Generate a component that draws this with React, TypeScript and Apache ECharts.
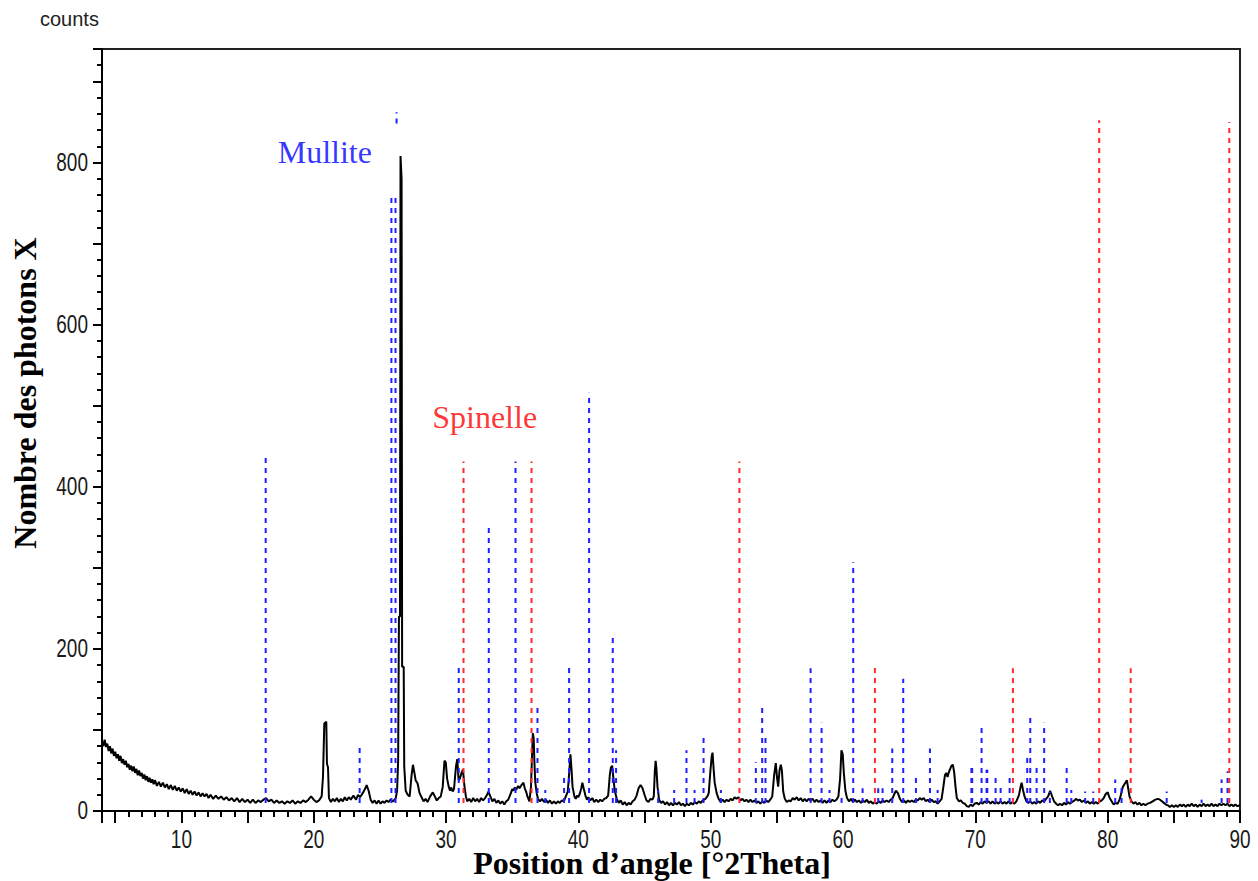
import React, { useEffect, useRef } from "react";
import * as echarts from "echarts";

// ---- Data -------------------------------------------------------------
// Measured XRD pattern: [2theta, counts]
const pattern: [number, number][] = [
  [4.0, 86], [4.1, 80], [4.2, 88], [4.3, 79], [4.4, 83], [4.5, 74], [4.6, 80], [4.7, 71], [4.8, 77], [4.9, 68],
  [5.0, 73], [5.1, 65], [5.2, 70], [5.3, 62], [5.4, 68], [5.5, 59], [5.6, 64], [5.7, 57], [5.8, 62], [5.9, 54],
  [6.0, 58], [6.1, 51], [6.2, 56], [6.3, 49], [6.4, 55], [6.5, 47], [6.6, 52], [6.7, 44], [6.8, 50], [6.9, 43],
  [7.0, 47], [7.1, 40], [7.2, 45], [7.3, 38], [7.4, 43], [7.5, 36], [7.6, 41], [7.7, 35], [7.8, 39], [7.9, 33],
  [8.0, 38], [8.15, 31], [8.3, 36], [8.45, 30], [8.6, 35], [8.75, 29], [8.9, 33], [9.05, 27], [9.2, 32], [9.35, 26],
  [9.5, 31], [9.65, 25], [9.8, 29], [9.95, 24], [10.1, 28], [10.25, 22], [10.4, 27], [10.55, 21], [10.7, 25], [10.85, 20],
  [11.0, 24], [11.15, 19], [11.3, 23], [11.45, 18], [11.6, 22], [11.75, 18], [11.9, 21], [12.05, 16], [12.2, 20], [12.4, 15],
  [12.6, 19], [12.8, 15], [13.0, 18], [13.2, 14], [13.4, 17], [13.6, 13], [13.8, 16], [14.0, 12], [14.2, 16], [14.4, 11],
  [14.6, 15], [14.8, 11], [15.0, 14], [15.2, 10], [15.4, 14], [15.6, 10], [15.8, 13], [16.0, 11], [16.2, 14], [16.4, 16],
  [16.6, 12], [16.8, 14], [17.0, 10], [17.2, 13], [17.4, 10], [17.6, 12], [17.8, 9], [18.0, 12], [18.2, 10], [18.4, 13],
  [18.6, 9], [18.8, 12], [19.0, 10], [19.2, 13], [19.4, 11], [19.6, 14], [19.8, 18], [20.0, 14], [20.2, 11], [20.4, 13],
  [20.6, 18], [20.7, 42], [20.8, 108], [20.95, 110], [21.0, 58], [21.08, 54], [21.15, 16], [21.3, 11], [21.45, 15], [21.6, 12],
  [21.75, 16], [21.9, 11], [22.05, 15], [22.2, 12], [22.35, 17], [22.5, 13], [22.65, 17], [22.8, 14], [23.0, 19], [23.2, 14],
  [23.35, 20], [23.5, 17], [23.7, 22], [23.9, 28], [24.0, 32], [24.15, 25], [24.3, 14], [24.45, 10], [24.6, 13], [24.75, 9],
  [24.9, 13], [25.05, 9], [25.2, 12], [25.35, 10], [25.5, 13], [25.65, 11], [25.8, 14], [26.0, 12], [26.2, 16], [26.3, 25],
  [26.38, 62], [26.44, 240], [26.52, 240], [26.56, 808], [26.64, 780], [26.68, 178], [26.8, 178], [26.84, 55], [26.95, 25], [27.1, 20],
  [27.25, 18], [27.4, 45], [27.5, 57], [27.6, 48], [27.7, 38], [27.85, 34], [28.0, 22], [28.15, 17], [28.3, 12], [28.45, 15],
  [28.6, 11], [28.8, 18], [29.0, 23], [29.15, 18], [29.3, 13], [29.45, 16], [29.6, 18], [29.75, 30], [29.88, 62], [29.98, 60],
  [30.08, 40], [30.2, 30], [30.3, 25], [30.4, 29], [30.5, 24], [30.6, 27], [30.75, 55], [30.85, 64], [30.95, 38], [31.05, 40],
  [31.15, 46], [31.28, 51], [31.38, 32], [31.5, 18], [31.6, 12], [31.75, 15], [31.9, 11], [32.05, 16], [32.2, 12], [32.35, 15],
  [32.5, 11], [32.65, 16], [32.8, 13], [32.95, 16], [33.1, 20], [33.2, 24], [33.35, 18], [33.5, 12], [33.65, 15], [33.8, 10],
  [33.95, 13], [34.1, 9], [34.25, 12], [34.4, 8], [34.55, 12], [34.7, 14], [34.9, 22], [35.0, 27], [35.1, 25], [35.2, 29],
  [35.3, 26], [35.45, 31], [35.55, 28], [35.7, 32], [35.85, 35], [35.95, 28], [36.05, 24], [36.15, 18], [36.3, 12], [36.42, 30],
  [36.5, 70], [36.56, 96], [36.62, 90], [36.68, 60], [36.74, 36], [36.85, 22], [36.95, 15], [37.1, 12], [37.25, 15], [37.4, 11],
  [37.55, 14], [37.7, 10], [37.85, 13], [38.0, 9], [38.15, 12], [38.3, 9], [38.45, 12], [38.6, 10], [38.75, 13], [38.9, 12],
  [39.05, 18], [39.2, 24], [39.32, 50], [39.4, 70], [39.48, 52], [39.56, 30], [39.7, 18], [39.8, 15], [39.9, 19], [40.0, 17],
  [40.1, 21], [40.22, 28], [40.3, 35], [40.4, 28], [40.55, 18], [40.65, 14], [40.75, 17], [40.9, 13], [41.05, 16], [41.2, 11],
  [41.35, 14], [41.5, 11], [41.65, 14], [41.8, 12], [41.95, 15], [42.1, 16], [42.25, 19], [42.38, 45], [42.45, 53], [42.55, 56],
  [42.65, 40], [42.75, 25], [42.9, 15], [43.05, 10], [43.2, 13], [43.35, 8], [43.5, 11], [43.65, 7], [43.8, 10], [43.95, 8],
  [44.1, 12], [44.25, 14], [44.4, 19], [44.55, 28], [44.7, 32], [44.85, 28], [45.0, 20], [45.15, 13], [45.3, 11], [45.45, 15],
  [45.6, 14], [45.7, 18], [45.78, 50], [45.84, 62], [45.9, 52], [45.98, 30], [46.1, 14], [46.25, 10], [46.4, 12], [46.55, 8],
  [46.7, 11], [46.85, 7], [47.0, 10], [47.15, 7], [47.3, 10], [47.45, 8], [47.6, 11], [47.75, 7], [47.9, 9], [48.05, 6],
  [48.2, 9], [48.35, 7], [48.5, 10], [48.65, 8], [48.8, 11], [48.95, 9], [49.1, 12], [49.25, 10], [49.4, 13], [49.6, 15],
  [49.75, 18], [49.85, 22], [49.98, 50], [50.08, 68], [50.14, 72], [50.22, 52], [50.3, 35], [50.45, 22], [50.6, 15], [50.75, 11],
  [50.9, 14], [51.05, 11], [51.2, 14], [51.35, 12], [51.5, 15], [51.65, 13], [51.8, 17], [51.95, 15], [52.1, 17], [52.25, 13],
  [52.4, 15], [52.55, 12], [52.7, 14], [52.85, 11], [53.0, 14], [53.15, 11], [53.3, 13], [53.45, 10], [53.6, 12], [53.75, 9],
  [53.9, 12], [54.05, 10], [54.2, 13], [54.35, 11], [54.5, 14], [54.65, 18], [54.8, 45], [54.92, 59], [55.02, 40], [55.1, 30],
  [55.2, 50], [55.3, 57], [55.38, 50], [55.48, 24], [55.6, 15], [55.75, 11], [55.9, 13], [56.05, 12], [56.2, 16], [56.35, 14],
  [56.5, 17], [56.65, 13], [56.8, 16], [56.95, 12], [57.1, 15], [57.25, 12], [57.4, 15], [57.55, 13], [57.7, 15], [57.85, 11],
  [58.0, 14], [58.15, 11], [58.3, 13], [58.45, 10], [58.6, 13], [58.75, 10], [58.9, 13], [59.05, 11], [59.2, 14], [59.35, 12],
  [59.5, 14], [59.65, 18], [59.78, 40], [59.88, 75], [59.98, 70], [60.06, 47], [60.18, 25], [60.3, 16], [60.45, 12], [60.6, 15],
  [60.75, 11], [60.9, 14], [61.05, 11], [61.2, 13], [61.35, 10], [61.5, 13], [61.65, 11], [61.8, 14], [61.95, 10], [62.1, 12],
  [62.25, 9], [62.4, 11], [62.55, 9], [62.7, 12], [62.85, 10], [63.0, 13], [63.15, 11], [63.3, 13], [63.45, 11], [63.6, 14],
  [63.75, 16], [63.85, 20], [64.0, 25], [64.15, 22], [64.3, 15], [64.45, 11], [64.6, 13], [64.75, 10], [64.9, 13], [65.05, 11],
  [65.2, 13], [65.35, 11], [65.5, 14], [65.65, 13], [65.8, 16], [65.95, 14], [66.1, 16], [66.25, 12], [66.4, 14], [66.55, 11],
  [66.7, 14], [66.85, 11], [67.0, 12], [67.15, 9], [67.3, 12], [67.45, 15], [67.55, 26], [67.7, 44], [67.8, 47], [67.9, 42],
  [68.0, 48], [68.1, 52], [68.2, 56], [68.3, 57], [68.4, 48], [68.5, 30], [68.6, 16], [68.75, 12], [68.9, 13], [69.05, 10],
  [69.2, 9], [69.35, 6], [69.5, 5], [69.65, 8], [69.8, 6], [69.95, 9], [70.1, 10], [70.25, 8], [70.4, 11], [70.55, 9],
  [70.7, 12], [70.85, 10], [71.0, 12], [71.15, 9], [71.3, 12], [71.45, 9], [71.6, 11], [71.75, 9], [71.9, 12], [72.05, 9],
  [72.2, 11], [72.35, 9], [72.5, 12], [72.65, 9], [72.8, 11], [72.95, 9], [73.1, 12], [73.3, 20], [73.42, 30], [73.5, 35],
  [73.6, 26], [73.72, 18], [73.85, 12], [74.0, 10], [74.15, 12], [74.3, 9], [74.45, 11], [74.6, 9], [74.75, 12], [74.9, 10],
  [75.05, 13], [75.2, 12], [75.35, 15], [75.5, 18], [75.65, 25], [75.8, 18], [75.95, 12], [76.1, 9], [76.25, 7], [76.4, 9],
  [76.55, 7], [76.7, 10], [76.85, 8], [77.0, 11], [77.15, 9], [77.3, 11], [77.5, 13], [77.6, 15], [77.75, 13], [77.9, 14],
  [78.05, 11], [78.2, 13], [78.35, 10], [78.5, 12], [78.65, 9], [78.8, 11], [78.95, 9], [79.1, 11], [79.25, 9], [79.4, 12],
  [79.55, 13], [79.7, 16], [79.85, 21], [80.0, 23], [80.15, 16], [80.3, 12], [80.45, 8], [80.6, 10], [80.75, 9], [80.9, 14],
  [81.0, 20], [81.15, 30], [81.3, 34], [81.45, 38], [81.55, 28], [81.65, 18], [81.8, 12], [81.95, 9], [82.1, 11], [82.25, 8],
  [82.4, 10], [82.55, 7], [82.7, 9], [82.85, 7], [83.0, 9], [83.2, 10], [83.4, 12], [83.6, 14], [83.8, 15], [83.95, 14],
  [84.1, 12], [84.25, 10], [84.4, 8], [84.55, 7], [84.7, 5], [84.85, 7], [85.0, 5], [85.15, 7], [85.3, 5], [85.45, 8],
  [85.6, 6], [85.75, 8], [85.9, 5], [86.05, 8], [86.2, 6], [86.35, 9], [86.5, 6], [86.65, 8], [86.8, 5], [86.95, 8],
  [87.1, 6], [87.25, 9], [87.4, 6], [87.55, 8], [87.7, 6], [87.85, 9], [88.0, 6], [88.15, 8], [88.3, 6], [88.45, 9],
  [88.6, 7], [88.75, 9], [88.9, 7], [89.05, 9], [89.2, 6], [89.35, 8], [89.5, 6], [89.65, 8], [89.8, 6], [90.0, 7],
];

// Reference stick patterns: [2theta, relative height in counts]
const mulliteSticks: [number, number][] = [
  [16.37, 437], [23.47, 83], [25.87, 757], [26.18, 757], [30.96, 178], [33.23, 349], [35.25, 431],
  [36.91, 127], [37.5, 26], [38.92, 44], [39.3, 178], [40.81, 516], [42.6, 219], [42.85, 75],
  [46.03, 26], [47.24, 26], [48.17, 75], [48.78, 26], [49.46, 94], [50.77, 26], [53.41, 60],
  [53.89, 127], [54.14, 94], [57.55, 176], [58.38, 109], [58.98, 26], [59.89, 22], [60.77, 307],
  [61.48, 28], [62.66, 28], [62.99, 28], [63.72, 77], [64.55, 163], [65.51, 44], [66.57, 77],
  [67.15, 26], [69.7, 57], [69.76, 57], [70.47, 108], [70.85, 51], [70.9, 51], [71.53, 42],
  [71.91, 33], [72.59, 42], [73.92, 66], [74.15, 118], [74.63, 57], [75.2, 109], [75.63, 24],
  [76.9, 57], [77.25, 26], [78.3, 24], [78.91, 24], [80.57, 39], [81.05, 30], [84.46, 24],
  [87.1, 14], [88.61, 39], [89.06, 49],
];
// isolated upper fragment of a Mullite stick near 26.3°: [2theta, from, to]
const mulliteFragments: [number, number, number][] = [[26.26, 848, 862]];

const spinelleSticks: [number, number][] = [
  [31.32, 431], [36.46, 431], [52.17, 431], [62.41, 178], [72.84, 176], [79.36, 852],
  [81.74, 176], [89.19, 850],
];

const stickBase = 10;
const yTickLabels = [0, 200, 400, 600, 800];
const xTickLabels = [10, 20, 30, 40, 50, 60, 70, 80, 90];

const phaseLabels = [
  { text: "Mullite", x: 24.4, y: 813, color: "#0000ff" },
  { text: "Spinelle", x: 36.88, y: 486, color: "#ff0000" },
];

// -----------------------------------------------------------------------
const TICK_FONT = '"Liberation Sans", Arial, sans-serif';
const SERIF = '"Liberation Serif", "Times New Roman", serif';

function stickSeries(name: string, data: number[][], color: string): any {
  return {
    type: "custom",
    name,
    xAxisIndex: 0,
    yAxisIndex: 0,
    z: 5,
    silent: true,
    clip: true,
    encode: { x: 0, y: [1, 2] },
    data,
    renderItem: (_params: any, api: any) => {
      const x = api.value(0);
      const top = api.value(1);
      const bottom = api.value(2);
      const p0 = api.coord([x, bottom]);
      const p1 = api.coord([x, top]);
      return {
        type: "line",
        shape: { x1: p0[0], y1: p0[1], x2: p1[0], y2: p1[1] },
        style: { stroke: color, lineWidth: 2, lineDash: [5, 5] },
      };
    },
  };
}

// tick labels drawn in a narrow (horizontally compressed) face, positioned by the axes' scales
function tickLabelSeries(axis: "x" | "y", values: number[]): any {
  return {
    type: "custom",
    name: axis + "-tick-labels",
    xAxisIndex: 0,
    yAxisIndex: 0,
    silent: true,
    clip: false,
    z: 10,
    encode: { x: 0, y: 1 },
    data: values.map((v) => (axis === "x" ? [v, 0] : [4, v])),
    renderItem: (_params: any, api: any) => {
      const p = api.coord([api.value(0), api.value(1)]);
      const v = axis === "x" ? api.value(0) : api.value(1);
      return {
        type: "text",
        x: axis === "x" ? p[0] : p[0] - 14,
        y: axis === "x" ? p[1] + 29 : p[1],
        scaleX: 0.76,
        style: {
          text: String(v),
          font: `25px ${TICK_FONT}`,
          fill: "#1a1a1a",
          align: axis === "x" ? "center" : "right",
          verticalAlign: "middle",
        },
      };
    },
  };
}

export default function App() {
  const ref = useRef<HTMLDivElement>(null);

  useEffect(() => {
    if (!ref.current) return;
    const chart = echarts.init(ref.current, null, { renderer: "svg" });

    const mData = mulliteSticks.map(([x, h]) => [x, h, stickBase]);
    const fData = mulliteFragments.map(([x, a, b]) => [x, b, a]);
    const sData = spinelleSticks.map(([x, h]) => [x, h, stickBase]);

    const option: any = {
      animation: false,
      backgroundColor: "#ffffff",
      grid: {
        left: 102,
        right: 18,
        top: 49,
        bottom: 70,
        show: true,
        borderColor: "#222",
        borderWidth: 2,
        backgroundColor: "transparent",
      },
      xAxis: [
        {
          type: "value",
          min: 4,
          max: 90,
          splitNumber: 17,
          minInterval: 5,
          maxInterval: 5,
          position: "bottom",
          axisLine: { show: true, onZero: false, lineStyle: { color: "#000", width: 2 } },
          axisTick: { show: true, length: 12, lineStyle: { color: "#000", width: 2 } },
          splitLine: { show: false },
          axisLabel: { show: false },
        },
        {
          type: "value",
          min: 4,
          max: 90,
          interval: 1,
          position: "bottom",
          offset: 0,
          axisLine: { show: false },
          axisTick: { show: true, length: 6, lineStyle: { color: "#000", width: 2 } },
          axisLabel: { show: false },
          splitLine: { show: false },
        },
      ],
      yAxis: [
        {
          type: "value",
          min: 0,
          max: 940,
          interval: 100,
          position: "left",
          axisLine: { show: true, onZero: false, lineStyle: { color: "#000", width: 2 } },
          axisTick: { show: true, length: 9, lineStyle: { color: "#000", width: 2 } },
          splitLine: { show: false },
          axisLabel: { show: false },
        },
        {
          type: "value",
          min: 0,
          max: 940,
          interval: 20,
          position: "left",
          offset: 0,
          axisLine: { show: false },
          axisTick: { show: true, length: 5, lineStyle: { color: "#000", width: 2 } },
          axisLabel: { show: false },
          splitLine: { show: false },
        },
      ],
      series: [
        {
          type: "line",
          name: "pattern",
          xAxisIndex: 0,
          yAxisIndex: 0,
          data: pattern,
          showSymbol: false,
          symbol: "none",
          z: 3,
          lineStyle: { color: "#000", width: 2 },
          silent: true,
        },
        stickSeries("Mullite", mData, "#1f1fff"),
        stickSeries("Mullite fragment", fData, "#1f1fff"),
        stickSeries("Spinelle", sData, "#ff2a2a"),
        tickLabelSeries("x", xTickLabels),
        tickLabelSeries("y", yTickLabels),
        {
          type: "scatter",
          name: "labels",
          xAxisIndex: 0,
          yAxisIndex: 0,
          symbolSize: 0,
          silent: true,
          z: 6,
          data: phaseLabels.map((p) => ({
            value: [p.x, p.y],
            label: {
              show: true,
              position: "left",
              distance: 0,
              formatter: p.text,
              color: p.color,
              fontFamily: SERIF,
              fontSize: 32,
            },
          })),
        },
      ],
      graphic: [
        {
          type: "text",
          left: 40,
          top: 9,
          style: {
            text: "counts",
            font: '20px "Liberation Sans", Arial, sans-serif',
            fill: "#222",
          },
        },
        {
          type: "text",
          x: 25,
          y: 393,
          rotation: Math.PI / 2,
          style: {
            text: "Nombre des photons X",
            font: `bold 32px ${SERIF}`,
            fill: "#000",
            align: "center",
            verticalAlign: "middle",
          },
        },
        {
          type: "text",
          x: 652,
          y: 863,
          style: {
            text: "Position d\u2019angle [\u00b02Theta]",
            font: `bold 32px ${SERIF}`,
            fill: "#000",
            align: "center",
            verticalAlign: "middle",
          },
        },
      ],
    };

    chart.setOption(option);
    return () => chart.dispose();
  }, []);

  return (
    <div
      ref={ref}
      style={{ position: "fixed", left: 0, top: 0, width: 1258, height: 881, background: "#fff" }}
    />
  );
}
